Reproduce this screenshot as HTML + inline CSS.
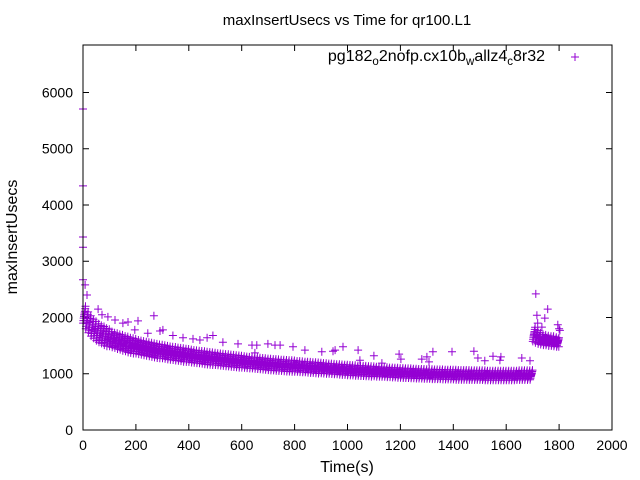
<!DOCTYPE html>
<html><head><meta charset="utf-8"><style>
body{margin:0;background:#fff}
svg{display:block;font-family:"Liberation Sans",sans-serif}
</style></head><body>
<svg id="chart" width="640" height="480" viewBox="0 0 640 480" xmlns="http://www.w3.org/2000/svg">
<rect width="640" height="480" fill="#fff"/>
<text x="347" y="25" font-size="15" text-anchor="middle">maxInsertUsecs vs Time for qr100.L1</text>
<g id="grid"></g>
<g id="marks"></g>
<rect x="83" y="45" width="529" height="385" fill="none" stroke="#000" stroke-width="1"/>
<text x="13" y="237" font-size="16" text-anchor="middle" dominant-baseline="middle" transform="rotate(-90 13 237)">maxInsertUsecs</text>
<text x="347" y="472" font-size="16" text-anchor="middle">Time(s)</text>
<g>
<text x="545" y="61" font-size="16" text-anchor="end">pg182<tspan font-size="11.5" dy="4">o</tspan><tspan dy="-4">2nofp.cx10b</tspan><tspan font-size="11.5" dy="4">w</tspan><tspan dy="-4">allz4</tspan><tspan font-size="11.5" dy="4">c</tspan><tspan dy="-4">8r32</tspan></text>
<path d="M571 57h8M575 53v8" stroke="#9400d3" stroke-width="1"/>
</g>
</svg>
<script>
const xTicks=[0,200,400,600,800,1000,1200,1400,1600,1800,2000];
const yTicks=[0,1000,2000,3000,4000,5000,6000];
// main band centre values at t=5,15,...,1695
const mainMid=[2050,1950,1880,1820,1780,1740,1710,1690,1660,1640,
1620,1600,1590,1570,1560,1540,1530,1510,1500,1490,
1480,1470,1460,1450,1440,1430,1420,1410,1400,1395,
1390,1380,1370,1365,1360,1350,1345,1340,1330,1325,
1320,1310,1305,1300,1295,1290,1280,1275,1270,1265,
1260,1255,1250,1245,1240,1235,1230,1225,1220,1215,
1210,1205,1200,1195,1195,1190,1185,1180,1175,1170,
1165,1160,1160,1155,1150,1150,1145,1140,1140,1135,
1130,1130,1125,1120,1120,1115,1110,1110,1105,1100,
1100,1095,1090,1090,1085,1080,1080,1075,1070,1070,
1065,1060,1060,1055,1055,1050,1050,1045,1045,1040,
1040,1035,1035,1030,1030,1025,1025,1020,1020,1015,
1015,1010,1010,1010,1005,1005,1000,1000,1000,995,
995,995,990,990,990,990,985,985,985,985,
985,980,980,980,980,980,975,975,975,975,
975,975,970,970,970,970,970,970,970,970,
970,970,970,970,975,975,975,975,975,980];
// band thickness (usecs) per 100 s segment
const mainSpread=[300,260,240,230,220,210,200,200,190,180,180,170,170,170,170,170,170];
const tailTimes=[1705,1715,1725,1735,1745,1755,1765,1775,1785,1795];
const tailMid=[1700,1660,1630,1610,1600,1590,1580,1580,1570,1560];
const tailSpread=[250,220,200,180,180,170,170,170,160,160];
const outT=[0,0,0,0,0,8,15,57,72,94,121,151,170,208,268,196,245,291,302,340,378,416,442,469,491,529,586,639,657,699,726,745,794,839,903,945,650,953,983,1040,1047,1100,1130,1195,1202,1281,1300,1308,1323,1395,1478,1493,1519,1550,1580,1576,1659,1690,1712,1757,1795,1803,1716,1746,1719,1735,1799,1800];
const outV=[5707,4340,3430,3250,2670,2580,2400,2150,2050,2010,1955,1900,1920,1940,2030,1780,1720,1760,1780,1680,1640,1620,1600,1640,1680,1560,1530,1510,1510,1530,1510,1510,1480,1420,1390,1400,1370,1420,1480,1420,1240,1320,1190,1350,1260,1260,1300,1210,1390,1390,1400,1280,1230,1310,1300,1240,1280,1230,2420,2150,1870,1770,2040,1990,1900,1830,1480,1800];

const X=t=>83+t*529/2000;
const Y=v=>430-v*385/6844;
const NS='http://www.w3.org/2000/svg';
const grid=document.getElementById('grid');
const marks=document.getElementById('marks');
xTicks.forEach(t=>{
  const l=document.createElementNS(NS,'path');
  l.setAttribute('d',`M${X(t)} 430v-6M${X(t)} 45v6`);
  l.setAttribute('stroke','#000');
  
  
  grid.appendChild(l);
  const tx=document.createElementNS(NS,'text');
  tx.setAttribute('x',X(t));tx.setAttribute('y',450);
  tx.setAttribute('font-size','14');tx.setAttribute('text-anchor','middle');
  tx.textContent=t;
  
  
  grid.appendChild(tx);
});
yTicks.forEach(v=>{
  const l=document.createElementNS(NS,'path');
  l.setAttribute('d',`M83 ${Y(v)}h6M612 ${Y(v)}h-6`);
  l.setAttribute('stroke','#000');
  
  
  grid.appendChild(l);
  const tx=document.createElementNS(NS,'text');
  tx.setAttribute('x',73);tx.setAttribute('y',Y(v)+5);
  tx.setAttribute('font-size','14');tx.setAttribute('text-anchor','end');
  tx.textContent=v;
  
  
  grid.appendChild(tx);
});
let d='';
function plus(t,v){const x=X(t),y=Y(v);d+=`M${(x-4).toFixed(1)} ${y.toFixed(1)}h8M${x.toFixed(1)} ${(y-4).toFixed(1)}v8`;}
const fr=[-0.5,-0.35,-0.2,-0.1,0,0.1,0.2,0.35,0.5];
mainMid.forEach((m,i)=>{
  const t=5+i*10, s=mainSpread[Math.min(16,Math.floor(t/100))];
  fr.forEach((f,j)=>plus(t-4.5+j*1.1,m+f*s));
});
tailMid.forEach((m,i)=>{
  const s=tailSpread[i];
  fr.forEach((f,j)=>plus(tailTimes[i]-4.5+j*1.1,m+f*s));
});
outT.forEach((t,i)=>plus(t,outV[i]));
const p=document.createElementNS(NS,'path');
p.setAttribute('d',d);p.setAttribute('stroke','#9400d3');p.setAttribute('stroke-width','1');p.setAttribute('fill','none');


marks.appendChild(p);
</script>
</body></html>
